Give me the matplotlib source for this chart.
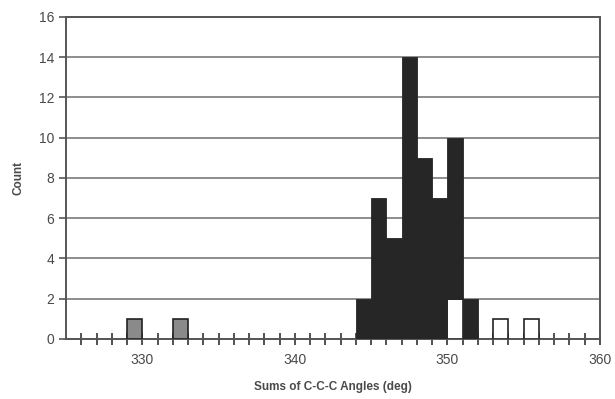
import matplotlib
matplotlib.use("Agg")
import matplotlib.pyplot as plt
import numpy as np

plt.rcParams["font.family"] = ["Liberation Sans", "DejaVu Sans"]

# Bin left edges (deg) and counts for each group (stacked)
gray_bins = [329, 332]
gray_counts = [1, 1]

white_bins = [350, 353, 355]
white_counts = [2, 1, 1]

dark_bins = [344, 345, 346, 347, 348, 349, 350, 351]
dark_counts = [2, 7, 5, 14, 9, 7, 8, 2]

x_major = [330, 340, 350, 360]
y_ticks = [0, 2, 4, 6, 8, 10, 12, 14, 16]

txt = "#4a4a4a"
line = "#555555"

fig = plt.figure(figsize=(6.15, 3.99), dpi=100)
ax = fig.add_axes([0.1073, 0.1504, 0.8683, 0.807])

# base of dark bars sits on white bars where they share a bin
white_lookup = dict(zip(white_bins, white_counts))
dark_bottom = [white_lookup.get(b, 0) for b in dark_bins]

ax.bar(gray_bins, gray_counts, width=1, align="edge", color="#8a8a8a",
       edgecolor="#222222", linewidth=1.2, zorder=3)
ax.bar(white_bins, white_counts, width=1, align="edge", color="white",
       edgecolor="#222222", linewidth=1.2, zorder=3)
ax.bar(dark_bins, dark_counts, width=1, align="edge", bottom=dark_bottom,
       color="#262626", edgecolor="#262626", linewidth=0.6, zorder=3)

ax.set_xlim(325, 360)
ax.set_ylim(0, 16)
ax.set_xticks(x_major)
ax.set_xticks(np.arange(326, 360, 1), minor=True)
ax.set_yticks(y_ticks)

ax.yaxis.grid(True, color="#7a7a7a", linewidth=1.2, zorder=1)
ax.set_axisbelow(True)

for side in ["left", "bottom", "right", "top"]:
    ax.spines[side].set_color(line)
    ax.spines[side].set_linewidth(1.4)

ax.tick_params(axis="x", which="both", direction="inout", length=8,
               width=1.2, color="#333333", labelsize=10, labelcolor=txt, pad=6)
ax.tick_params(axis="y", direction="out", length=5, width=1.2,
               color=line, labelsize=10, labelcolor=txt)

ax.set_xlabel("Sums of C-C-C Angles (deg)", fontsize=8.5, fontweight="bold",
              color=txt, labelpad=10)
ax.set_ylabel("Count", fontsize=8.5, fontweight="bold", color=txt, labelpad=10)

fig.savefig("out.png", dpi=100)
